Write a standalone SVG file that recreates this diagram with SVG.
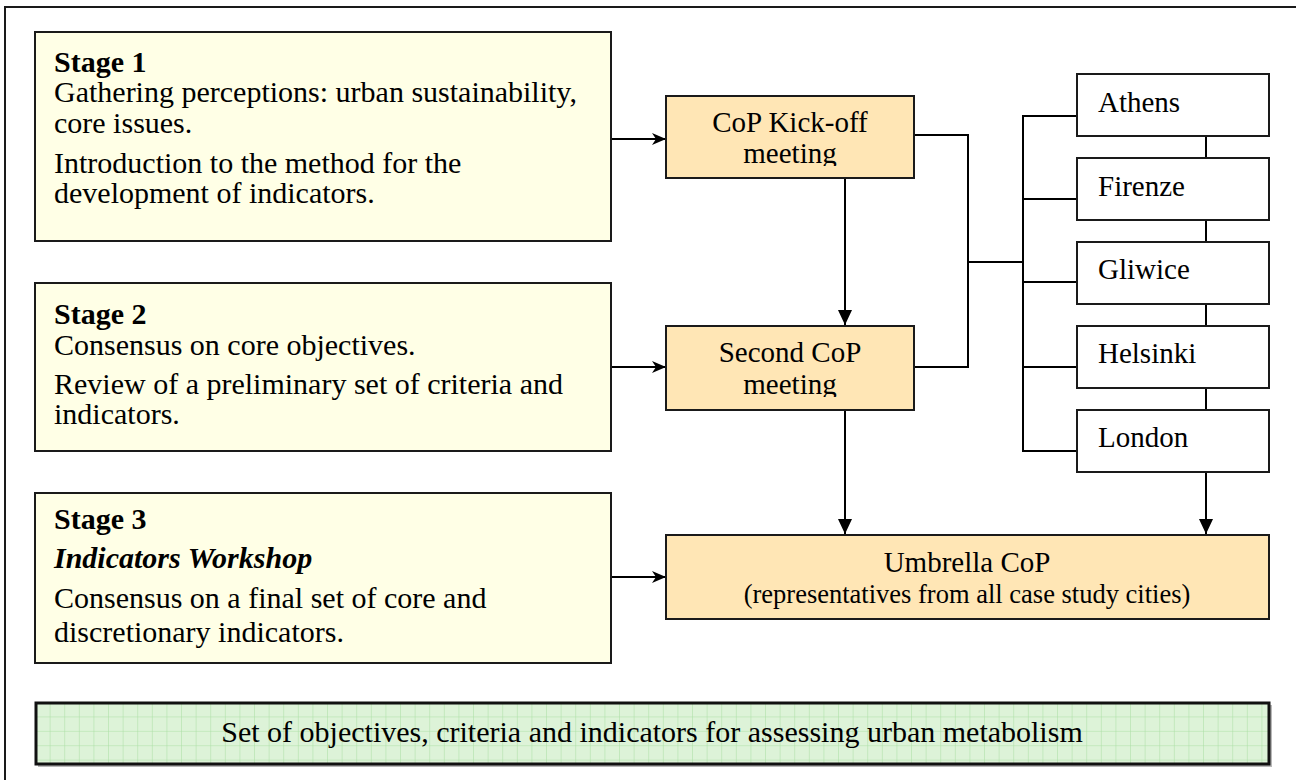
<svg xmlns="http://www.w3.org/2000/svg" width="1296" height="780" viewBox="0 0 1296 780">
<style>
.t{font-family:"Liberation Serif","Times New Roman",serif;font-size:30px;fill:#000}
.r{font-size:29px}
.b{font-weight:bold}
.bi{font-weight:bold;font-style:italic}
.stage{fill:#FFFFE6;stroke:#1a1a1a;stroke-width:2}
.org{fill:#FFE6B5;stroke:#1a1a1a;stroke-width:2}
.city{fill:#FFFFFF;stroke:#1a1a1a;stroke-width:2}
.sh{fill:#b8b8b8}
.c{fill:none;stroke:#000;stroke-width:2}
</style>
<defs>
<marker id="ah" markerWidth="14" markerHeight="12" refX="13" refY="6" orient="auto" markerUnits="userSpaceOnUse">
<path d="M0,0 L14,6 L0,12 L4,6 z" fill="#000"/>
</marker>
<marker id="av" markerWidth="14" markerHeight="16" refX="15" refY="7" orient="auto" markerUnits="userSpaceOnUse">
<path d="M0,0 L15,7 L0,14 z" fill="#000"/>
</marker>
<pattern id="grid" width="14.6" height="14.4" patternUnits="userSpaceOnUse" x="36" y="703">
<rect width="14.6" height="14.4" fill="#DDF3D8"/>
<path d="M14.6,0 V14.4 M0,14.4 H14.6" stroke="#A9DFA3" stroke-width="1" fill="none"/>
</pattern>
<clipPath id="cpK"><rect x="666" y="96" width="248" height="70"/></clipPath>
<clipPath id="cpS"><rect x="666" y="326" width="248" height="71"/></clipPath>
<clipPath id="cp3"><rect x="36" y="493" width="575" height="156"/></clipPath>
</defs>

<rect x="5" y="7" width="1310" height="800" fill="#fff" stroke="#1a1a1a" stroke-width="2"/>

<g id="connectors">
<line class="c" x1="611" y1="139" x2="665" y2="139" marker-end="url(#ah)"/>
<line class="c" x1="611" y1="367" x2="665" y2="367" marker-end="url(#ah)"/>
<line class="c" x1="611" y1="577" x2="665" y2="577" marker-end="url(#ah)"/>
<line class="c" x1="845" y1="178" x2="845" y2="325" marker-end="url(#av)"/>
<line class="c" x1="845" y1="410" x2="845" y2="534" marker-end="url(#av)"/>
<line class="c" x1="1206" y1="472" x2="1206" y2="534" marker-end="url(#av)"/>
<polyline class="c" points="914,135 968,135 968,367 914,367"/>
<line class="c" x1="968" y1="262" x2="1023" y2="262"/>
<line class="c" x1="1023" y1="115" x2="1023" y2="452"/>
<line class="c" x1="1023" y1="116" x2="1077" y2="116"/>
<line class="c" x1="1023" y1="199" x2="1077" y2="199"/>
<line class="c" x1="1023" y1="282" x2="1077" y2="282"/>
<line class="c" x1="1023" y1="367" x2="1077" y2="367"/>
<line class="c" x1="1023" y1="451" x2="1077" y2="451"/>
<line class="c" x1="1206" y1="136" x2="1206" y2="158"/>
<line class="c" x1="1206" y1="220" x2="1206" y2="242"/>
<line class="c" x1="1206" y1="304" x2="1206" y2="326"/>
<line class="c" x1="1206" y1="388" x2="1206" y2="410"/>
</g>

<g id="stage1">
<rect class="stage" x="35" y="32" width="576" height="209"/>
<text class="t b" x="54" y="72">Stage 1</text>
<text class="t" x="54" y="102">Gathering perceptions: urban sustainability,</text>
<text class="t" x="54" y="133">core issues.</text>
<text class="t" x="54" y="173">Introduction to the method for the</text>
<text class="t" x="54" y="203">development of indicators.</text>
</g>

<g id="stage2">
<rect class="stage" x="35" y="283" width="576" height="168"/>
<text class="t b" x="54" y="324">Stage 2</text>
<text class="t" x="54" y="355">Consensus on core objectives.</text>
<text class="t" x="54" y="394">Review of a preliminary set of criteria and</text>
<text class="t" x="54" y="424">indicators.</text>
</g>

<g id="stage3">
<rect class="stage" x="35" y="493" width="576" height="170"/>
<g clip-path="url(#cp3)">
<text class="t b" x="54" y="529">Stage 3</text>
<text class="t bi" x="54" y="568">Indicators Workshop</text>
<text class="t" x="54" y="608">Consensus on a final set of core and</text>
<text class="t" x="54" y="642">discretionary indicators.</text>
</g>
</g>

<g id="kickoff">
<rect class="org" x="666" y="96" width="248" height="82"/>
<g clip-path="url(#cpK)">
<text class="t r" x="790" y="132" text-anchor="middle">CoP Kick-off</text>
<text class="t r" x="790" y="163" text-anchor="middle">meeting</text>
</g>
</g>

<g id="second">
<rect class="org" x="666" y="326" width="248" height="84"/>
<g clip-path="url(#cpS)">
<text class="t r" x="790" y="362" text-anchor="middle">Second CoP</text>
<text class="t r" x="790" y="394" text-anchor="middle">meeting</text>
</g>
</g>

<g id="umbrella">
<rect class="org" x="666" y="535" width="603" height="84"/>
<text class="t r" x="967" y="572" text-anchor="middle">Umbrella CoP</text>
<text class="t" x="967" y="603" text-anchor="middle" style="font-size:26.5px">(representatives from all case study cities)</text>
</g>

<g id="athens"><rect class="city" x="1077" y="74" width="192" height="62"/><text class="t r" x="1098" y="112">Athens</text></g>
<g id="firenze"><rect class="city" x="1077" y="158" width="192" height="62"/><text class="t r" x="1098" y="196">Firenze</text></g>
<g id="gliwice"><rect class="city" x="1077" y="242" width="192" height="62"/><text class="t r" x="1098" y="279">Gliwice</text></g>
<g id="helsinki"><rect class="city" x="1077" y="326" width="192" height="62"/><text class="t r" x="1098" y="363">Helsinki</text></g>
<g id="london"><rect class="city" x="1077" y="410" width="192" height="62"/><text class="t r" x="1098" y="447">London</text></g>

<g id="result">
<rect class="sh" x="38" y="705" width="1234" height="62"/>
<rect x="36" y="703" width="1233" height="61" fill="url(#grid)" stroke="#111" stroke-width="3"/>
<text class="t" x="652" y="742" text-anchor="middle">Set of objectives, criteria and indicators for assessing urban metabolism</text>
</g>
</svg>
